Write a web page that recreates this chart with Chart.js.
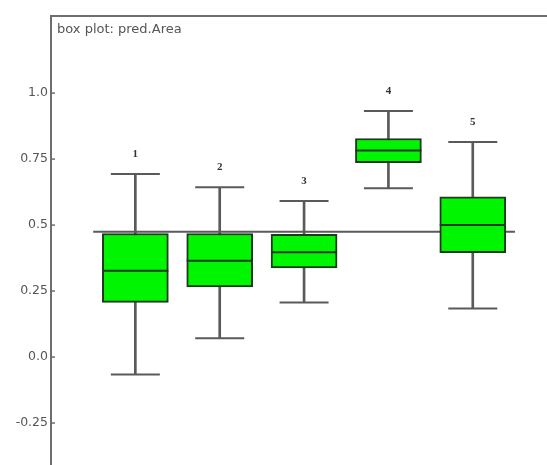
<!DOCTYPE html>
<html>
<head>
<meta charset="utf-8">
<script src="https://cdn.jsdelivr.net/npm/chart.js@4.4.1/dist/chart.umd.min.js"></script>
<style>
  html, body { margin: 0; padding: 0; background: #fff; overflow: hidden; }
  #wrap { width: 547px; height: 465px; }
</style>
</head>
<body>
<div id="wrap"><canvas id="boxplot" width="547" height="465"></canvas></div>
<script>
// box plot values
var categories = ["1", "2", "3", "4", "5"];
var whiskerLow = [-0.066, 0.071, 0.207, 0.639, 0.184];
var quart1 = [0.207, 0.266, 0.338, 0.736, 0.395];
var medians = [0.327, 0.365, 0.397, 0.782, 0.500];
var quart3 = [0.468, 0.468, 0.465, 0.828, 0.607];
var whiskerHigh = [0.693, 0.643, 0.591, 0.932, 0.815];
var refLevel = 0.475;
var refSpan = [0.5, 5.5];
var tickValues = [-0.25, 0, 0.25, 0.5, 0.75, 1.0];
var tickLabels = ["-0.25", "0.0", "0.25", "0.5", "0.75", "1.0"];

var ctx = document.getElementById("boxplot");

function pos(i) { return i + 1; }

var whiskers = categories.map(function(c, i) { return { x: pos(i), y: [whiskerLow[i], whiskerHigh[i]] }; });
var boxes = categories.map(function(c, i) { return { x: pos(i), y: [quart1[i], quart3[i]] }; });
var medianPts = categories.map(function(c, i) { return { x: pos(i), y: medians[i] }; });
var caps = [];
categories.forEach(function(c, i) {
	caps.push({ x: pos(i), y: whiskerLow[i] });
	caps.push({ x: pos(i), y: whiskerHigh[i] });
});

var frame = {
	id : "frame",
	afterDraw : function(chart) {
		var a = chart.chartArea, c = chart.ctx, y = chart.scales.y, x = chart.scales.x;
		c.save();
		c.strokeStyle = "#6e6e6e";
		c.lineWidth = 2;
		c.beginPath();
		c.moveTo(a.left - 1, a.top);
		c.lineTo(a.right, a.top);
		c.stroke();
		// small inward tick marks
		c.lineWidth = 1.5;
		tickValues.forEach(function(v) {
			var py = y.getPixelForValue(v);
			c.beginPath();
			c.moveTo(a.left, py);
			c.lineTo(a.left + 4, py);
			c.stroke();
		});
		// title
		c.fillStyle = "#555";
		c.font = "13px 'DejaVu Sans'";
		c.textAlign = "left";
		c.textBaseline = "middle";
		c.fillText("box plot: pred.Area", a.left + 6, a.top + 14);
		// group labels above the boxes
		c.fillStyle = "#333";
		c.font = "bold 11px 'Liberation Serif'";
		c.textAlign = "center";
		c.textBaseline = "middle";
		categories.forEach(function(cat, i) {
			c.fillText(cat, x.getPixelForValue(pos(i)), y.getPixelForValue(whiskerHigh[i]) - 20);
		});
		c.restore();
	}
};

var chart = new Chart(ctx, {
	type : "bar",
	data : {
		datasets : [
			{
				type : "line",
				data : [{ x: refSpan[0], y: refLevel }, { x: refSpan[1], y: refLevel }],
				borderColor : "#5a5a5a",
				borderWidth : 2,
				pointRadius : 0,
				order : 5
			},
			{
				data : whiskers,
				backgroundColor : "#5a5a5a",
				borderWidth : 0,
				barThickness : 2,
				grouped : false,
				order : 4
			},
			{
				data : boxes,
				backgroundColor : "#00f500",
				borderColor : "#1d3a1d",
				borderWidth : 2,
				borderSkipped : false,
				barThickness : 66,
				grouped : false,
				order : 3
			},
			{
				type : "scatter",
				data : medianPts,
				pointStyle : "line",
				pointRadius : 33,
				borderColor : "#1d3a1d",
				borderWidth : 2,
				order : 2
			},
			{
				type : "scatter",
				data : caps,
				pointStyle : "line",
				pointRadius : 24.5,
				borderColor : "#5a5a5a",
				borderWidth : 2,
				order : 1
			}
		]
	},
	options : {
		responsive : false,
		animation : false,
		layout : { autoPadding : false, padding : { top : 16, left : 0, right : 0, bottom : 0 } },
		plugins : {
			legend : { display : false },
			tooltip : { enabled : false }
		},
		scales : {
			x : {
				type : "linear",
				min : 0,
				max : 5.88,
				offset : false,
				display : false
			},
			y : {
				min : -0.409,
				max : 1.292,
				afterFit : function(s) {
					s.width = 51;
					s.paddingTop = 0;
					s.paddingBottom = 0;
				},
				afterBuildTicks : function(s) {
					s.ticks = tickValues.map(function(v) { return { value: v }; });
				},
				ticks : {
					color : "#555",
					font : { family : "DejaVu Sans", size : 12.5 },
					padding : 3,
					callback : function(v, i) { return tickLabels[i]; }
				},
				grid : { display : false, drawTicks : false },
				border : { display : true, color : "#6e6e6e", width : 2 }
			}
		}
	},
	plugins : [frame]
});
</script>
</body>
</html>
